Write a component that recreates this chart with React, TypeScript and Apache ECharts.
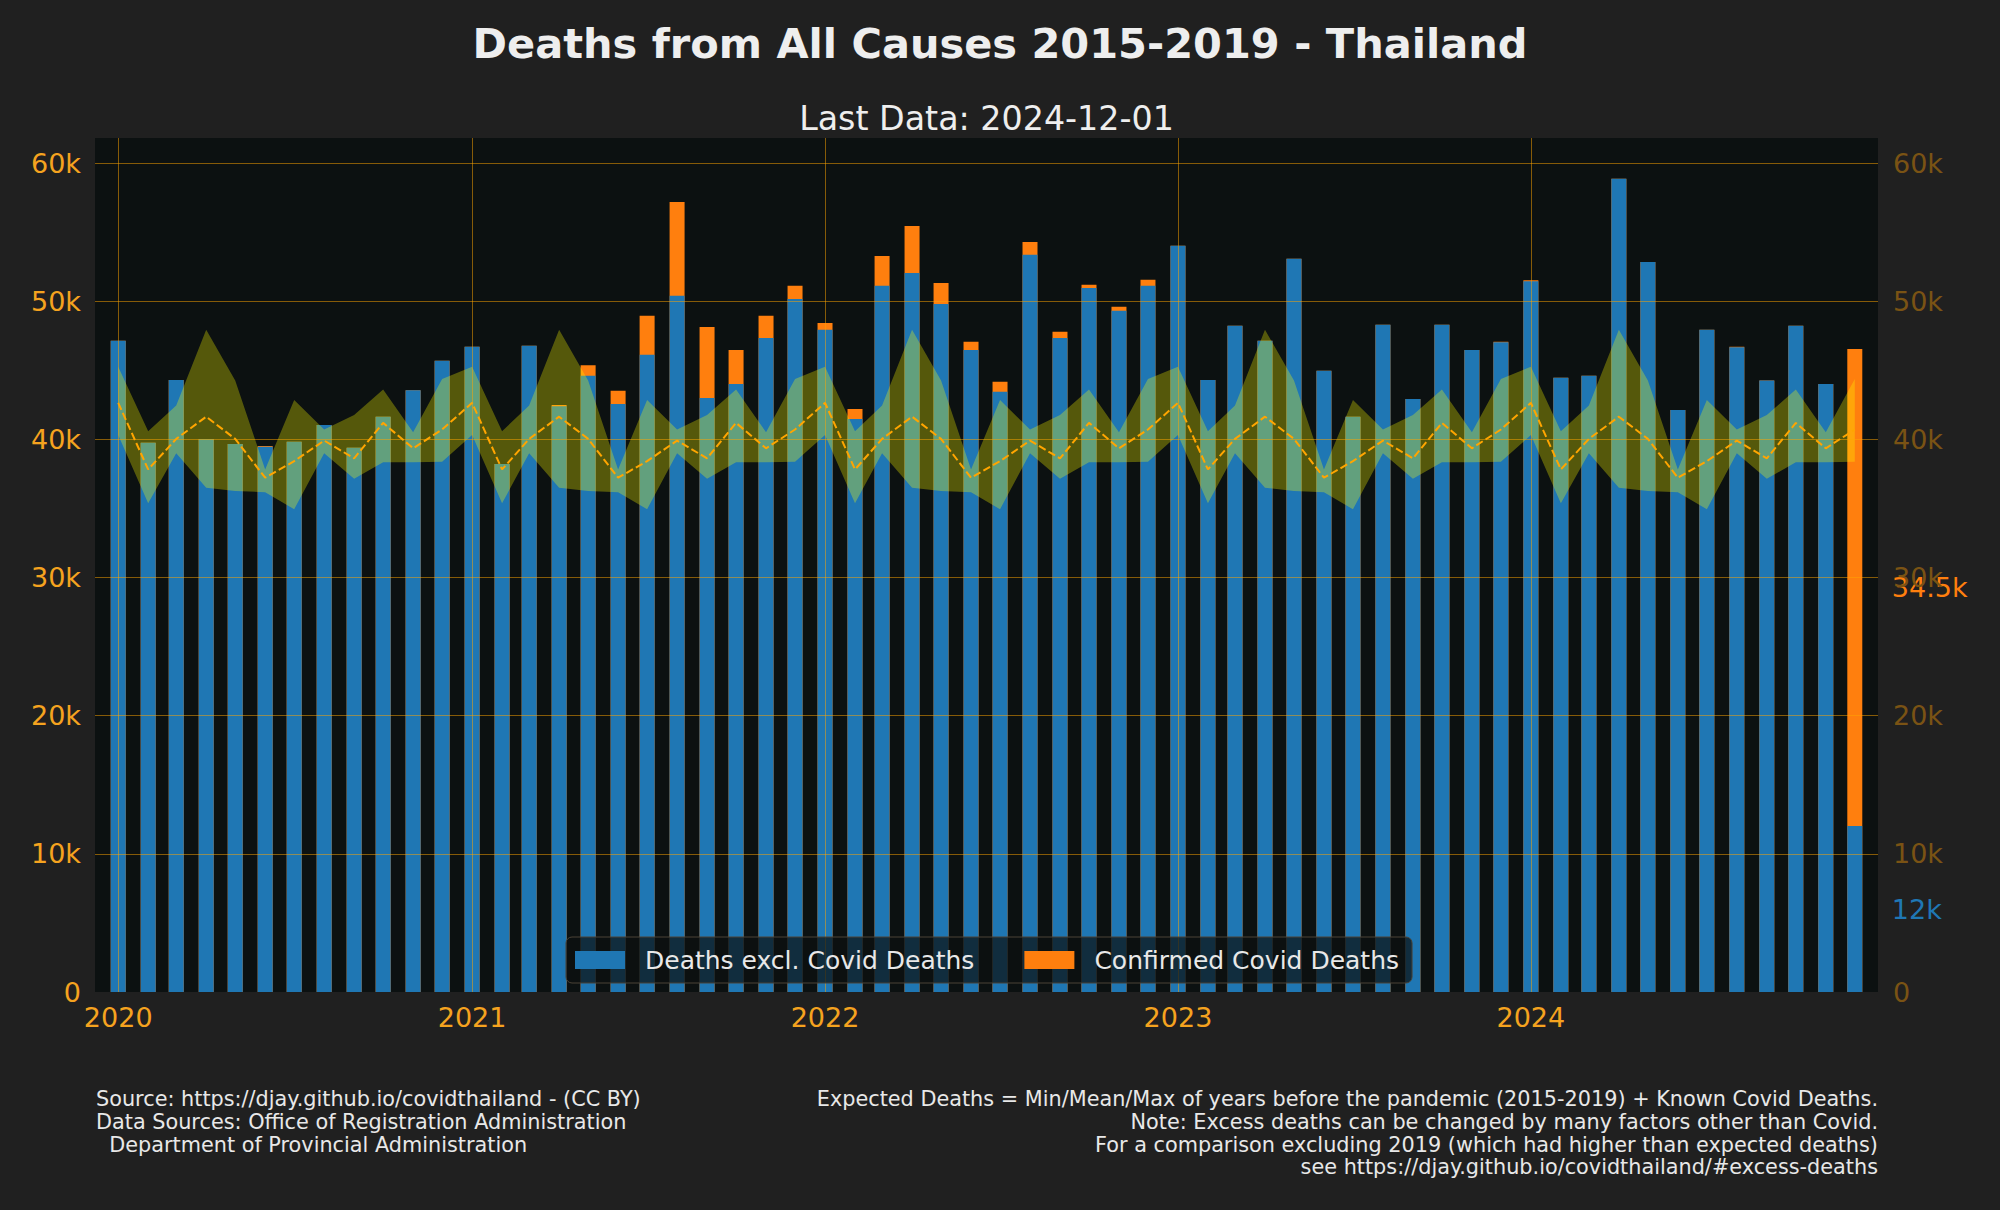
import React, { useEffect, useRef } from "react";
import * as echarts from "echarts";

const months = [
  "2020-01","2020-02","2020-03","2020-04","2020-05","2020-06","2020-07","2020-08","2020-09","2020-10","2020-11","2020-12",
  "2021-01","2021-02","2021-03","2021-04","2021-05","2021-06","2021-07","2021-08","2021-09","2021-10","2021-11","2021-12",
  "2022-01","2022-02","2022-03","2022-04","2022-05","2022-06","2022-07","2022-08","2022-09","2022-10","2022-11","2022-12",
  "2023-01","2023-02","2023-03","2023-04","2023-05","2023-06","2023-07","2023-08","2023-09","2023-10","2023-11","2023-12",
  "2024-01","2024-02","2024-03","2024-04","2024-05","2024-06","2024-07","2024-08","2024-09","2024-10","2024-11","2024-12",
];

const yearTicks = [2020, 2021, 2022, 2023, 2024];

const deathsExclCovid = [
  47150, 39760, 44300, 40040, 39680, 39480, 39840, 41040, 39400, 41650, 43570, 45700,
  46710, 38230, 46790, 42410, 44620, 42570, 46140, 50400, 43010, 44020, 47350, 50160,
  47950, 41490, 51120, 52050, 49800, 46470, 43450, 53370, 47350, 50960, 49320, 51120,
  54020, 44300, 48230, 47150, 53090, 44980, 41650, 48310, 42930, 48310, 46470, 47030,
  51450, 44460, 44620, 58880, 52850, 42130, 47950, 46670, 44260, 48230, 44020, 12010,
];

const covidDeaths = [
  0, 0, 0, 0, 0, 40, 0, 0, 0, 0, 0, 0,
  0, 0, 0, 90, 760, 960, 2810, 6790, 5140, 2450, 1610, 960,
  480, 720, 2170, 3410, 1530, 600, 720, 920, 440, 240, 280, 440,
  0, 0, 0, 0, 0, 0, 0, 0, 0, 0, 0, 40,
  80, 0, 0, 0, 0, 0, 0, 40, 0, 0, 0, 34540,
];

// Expected deaths per calendar month (Jan..Dec), years 2015-2019
const expectedMin = [40320, 35380, 39000, 36510, 36270, 36180, 34940, 39000, 37150, 38350, 38350, 38390];
const expectedMean = [42650, 37830, 40040, 41650, 40040, 37230, 38430, 39920, 38630, 41200, 39360, 40720];
const expectedMax = [45260, 40600, 42450, 47950, 44260, 37830, 42850, 40720, 41770, 43610, 40520, 44380];

const titleText = "Deaths from All Causes 2015-2019 - Thailand";
const subtitleText = "Last Data: 2024-12-01";
const footerLeft = [
  "Source: https://djay.github.io/covidthailand - (CC BY)",
  "Data Sources: Office of Registration Administration",
  "  Department of Provincial Administration",
];
const footerRight = [
  "Expected Deaths = Min/Mean/Max of years before the pandemic (2015-2019) + Known Covid Deaths.",
  "Note: Excess deaths can be changed by many factors other than Covid.",
  "For a comparison excluding 2019 (which had higher than expected deaths)",
  "see https://djay.github.io/covidthailand/#excess-deaths",
];

const DAY = 86400000;
const FONT = "DejaVu Sans";
const GRID_COLOR = "rgba(255,165,0,0.5)";

function toTime(m: string) {
  const [y, mo] = m.split("-").map(Number);
  return Date.UTC(y, mo - 1, 1);
}

function fmtK(v: number) {
  if (v === 0) return "0";
  const k = Math.round(v / 100) / 10;
  return (Number.isInteger(k) ? String(k) : k.toFixed(1)) + "k";
}

export default function App() {
  const ref = useRef<HTMLDivElement>(null);
  useEffect(() => {
    document.body.style.margin = "0";
    const chart = echarts.init(ref.current as HTMLDivElement, null, { renderer: "svg" });

    const times = months.map(toTime);
    const yearTimes = yearTicks.map((y) => Date.UTC(y, 0, 1));
    const totals = deathsExclCovid.map((v, i) => v + covidDeaths[i]);
    const yMax = Math.max(...totals) * 1.05;
    const last = months.length - 1;
    const monthIdx = months.map((m) => Number(m.split("-")[1]) - 1);

    const blueData = times.map((t, i) => [t, deathsExclCovid[i]]);
    const totalData = times.map((t, i) => [t, totals[i]]);
    const bandData = times.map((t, i) => [t, expectedMin[monthIdx[i]], expectedMax[monthIdx[i]]]);
    const meanData = times.map((t, i) => [t, expectedMean[monthIdx[i]]]);

    const lastBlue = deathsExclCovid[last];
    const lastCovid = covidDeaths[last];

    const option: any = {
      animation: false,
      backgroundColor: "#202020",
      textStyle: { fontFamily: FONT },
      grid: {
        left: 95,
        right: 122,
        top: 138,
        bottom: 218,
        show: true,
        backgroundColor: "#0c1111",
        borderWidth: 0,
      },
      legend: {
        data: ["Deaths excl. Covid Deaths", "Confirmed Covid Deaths"],
        left: 566,
        top: 937,
        orient: "horizontal",
        icon: "rect",
        itemWidth: 50,
        itemHeight: 18,
        itemGap: 50,
        selectedMode: false,
        padding: [10.5, 13, 10.5, 9],
        backgroundColor: "rgba(12,17,17,0.72)",
        borderColor: "#4a4236",
        borderWidth: 1,
        borderRadius: 6,
        z: 10,
        textStyle: { color: "#e8e8e8", fontSize: 25, fontFamily: FONT, padding: [0, 0, 0, 15] },
      },
      xAxis: {
        type: "value",
        min: times[0] - 24 * DAY,
        max: times[last] + 24 * DAY,
        z: 5,
        axisLine: { show: false },
        axisTick: { show: false, customValues: yearTimes },
        axisLabel: {
          color: "#f5a31f",
          fontSize: 27,
          fontFamily: FONT,
          margin: 12,
          customValues: yearTimes,
          hideOverlap: false,
          formatter: (val: number) => String(new Date(val).getUTCFullYear()),
        },
        splitLine: {
          show: true,
          lineStyle: { color: GRID_COLOR, width: 1 },
        },
      },
      yAxis: [
        {
          type: "value",
          position: "left",
          min: 0,
          max: yMax,
          interval: 10000,
          z: 5,
          axisLine: { show: false },
          axisTick: { show: false },
          axisLabel: {
            color: "#f5a31f",
            fontSize: 27,
            fontFamily: FONT,
            margin: 14,
            showMaxLabel: false,
            formatter: (v: number) => (v % 10000 === 0 ? fmtK(v) : ""),
          },
          splitLine: {
            show: true,
            showMinLine: false,
            showMaxLine: false,
            lineStyle: { color: GRID_COLOR, width: 1 },
          },
        },
        {
          type: "value",
          position: "right",
          min: 0,
          max: yMax,
          interval: 10000,
          z: 5,
          axisLine: { show: false },
          axisTick: { show: false },
          axisLabel: {
            color: "#7a5314",
            fontSize: 27,
            fontFamily: FONT,
            margin: 15,
            showMaxLabel: false,
            formatter: (v: number) => (v % 10000 === 0 ? fmtK(v) : ""),
          },
          splitLine: { show: false },
        },
      ],
      series: [
        {
          // total height = deaths excl. covid + covid; the blue bar is drawn over it
          name: "Confirmed Covid Deaths",
          type: "bar",
          barWidth: 15,
          barGap: "-100%",
          itemStyle: { color: "#ff7f0e" },
          data: totalData,
          z: 2,
          markPoint: {
            symbol: "circle",
            symbolSize: 0,
            silent: true,
            data: [
              {
                coord: [times[last], lastBlue + lastCovid / 2],
                label: {
                  show: true,
                  position: "right",
                  distance: 37,
                  formatter: fmtK(lastCovid),
                  color: "#ff7f0e",
                  fontSize: 27,
                  fontFamily: FONT,
                },
              },
            ],
          },
        },
        {
          name: "Deaths excl. Covid Deaths",
          type: "bar",
          barWidth: 15,
          barGap: "-100%",
          itemStyle: { color: "#1f77b4" },
          data: blueData,
          z: 2,
          markPoint: {
            symbol: "circle",
            symbolSize: 0,
            silent: true,
            data: [
              {
                coord: [times[last], lastBlue / 2],
                label: {
                  show: true,
                  position: "right",
                  distance: 37,
                  formatter: fmtK(lastBlue),
                  color: "#1f77b4",
                  fontSize: 27,
                  fontFamily: FONT,
                },
              },
            ],
          },
        },
        {
          name: "Expected Range",
          type: "custom",
          silent: true,
          z: 3,
          clip: true,
          encode: { x: 0, y: [1, 2] },
          data: bandData,
          renderItem: (params: any, api: any) => {
            if (params.dataIndex !== 0) return null;
            const top = bandData.map((d) => api.coord([d[0], d[2]]));
            const bottom = bandData.map((d) => api.coord([d[0], d[1]])).reverse();
            return {
              type: "polygon",
              shape: { points: top.concat(bottom) },
              style: { fill: "rgba(255,255,0,0.3)" },
            };
          },
        },
        {
          name: "Expected Mean",
          type: "line",
          symbol: "none",
          lineStyle: { color: "#ffa500", width: 2, type: [7.7, 3.3] },
          data: meanData,
          z: 4,
          silent: true,
        },
      ],
      graphic: [
        {
          type: "text",
          x: 1000,
          y: 43.6,
          style: {
            text: titleText,
            fill: "#eeeeee",
            fontSize: 41.5,
            fontWeight: "bold",
            fontFamily: FONT,
            align: "center",
            verticalAlign: "middle",
            textAlign: "center",
            textVerticalAlign: "middle",
          },
        },
        {
          type: "text",
          x: 986.5,
          y: 118.5,
          style: {
            text: subtitleText,
            fill: "#eeeeee",
            fontSize: 33.3,
            fontFamily: FONT,
            align: "center",
            verticalAlign: "middle",
            textAlign: "center",
            textVerticalAlign: "middle",
          },
        },
        {
          type: "text",
          x: 96,
          y: 1088,
          style: {
            text: footerLeft.join("\n"),
            fill: "#e8e8e8",
            fontSize: 20.8,
            lineHeight: 22.7,
            fontFamily: FONT,
            align: "left",
            verticalAlign: "top",
            textAlign: "left",
            textVerticalAlign: "top",
          },
        },
        {
          type: "text",
          x: 1878,
          y: 1088,
          style: {
            text: footerRight.join("\n"),
            fill: "#e8e8e8",
            fontSize: 20.8,
            lineHeight: 22.7,
            fontFamily: FONT,
            align: "right",
            verticalAlign: "top",
            textAlign: "right",
            textVerticalAlign: "top",
          },
        },
      ],
    };

    chart.setOption(option);
    return () => chart.dispose();
  }, []);
  return <div ref={ref} style={{ width: 2000, height: 1210 }} />;
}
